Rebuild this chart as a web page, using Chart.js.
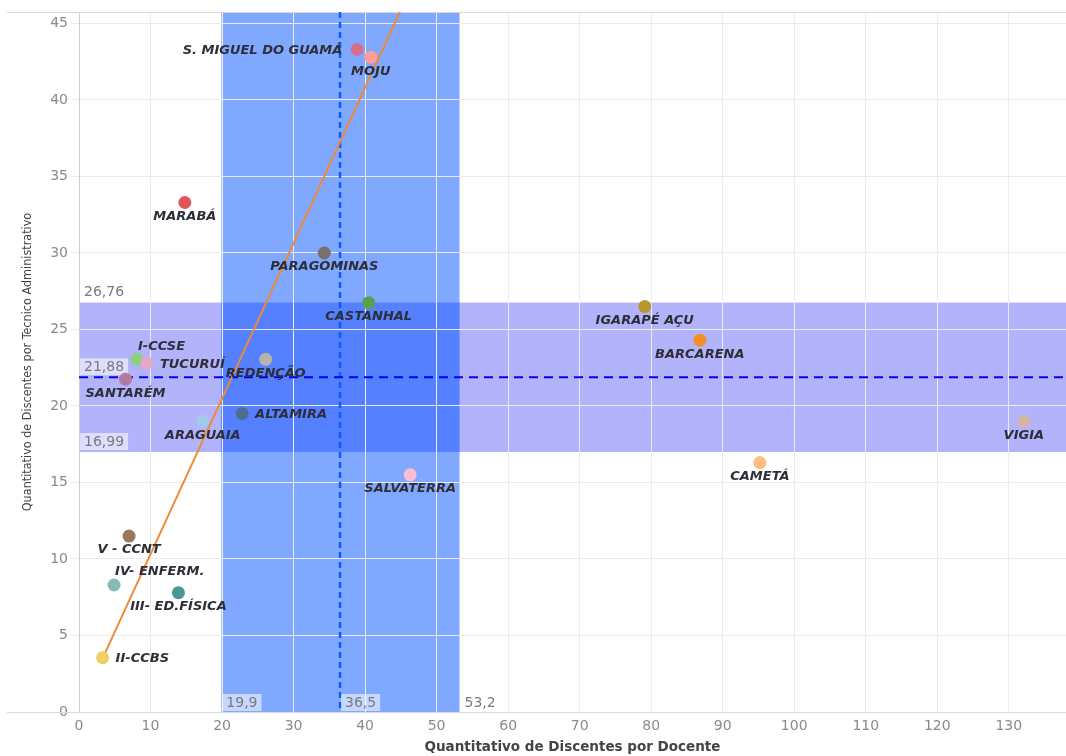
<!DOCTYPE html>
<html>
<head>
<meta charset="utf-8">
<script src="https://cdn.jsdelivr.net/npm/chart.js@4/dist/chart.umd.min.js"></script>
<style>
  html, body { margin: 0; padding: 0; background: #fff; overflow: hidden; }
  #wrap { width: 1066px; height: 756px; }
</style>
</head>
<body>
<div id="wrap"><canvas id="scatter" width="1066" height="756"></canvas></div>
<script>
// campus / unit names and their two ratios
const names = ['S. MIGUEL DO GUAMÁ', 'MOJU', 'MARABÁ', 'PARAGOMINAS', 'CASTANHAL', 'IGARAPÉ AÇU',
  'BARCARENA', 'I-CCSE', 'TUCURUÍ', 'REDENÇÃO', 'SANTARÉM', 'ALTAMIRA', 'ARAGUAIA', 'VIGIA',
  'CAMETÁ', 'SALVATERRA', 'V - CCNT', 'IV- ENFERM.', 'III- ED.FÍSICA', 'II-CCBS'];
const porDocente = [38.9, 40.8, 14.8, 34.3, 40.5, 79.1, 86.8, 8.1, 9.5, 26.1, 6.5, 22.8, 17.3, 132.1,
  95.2, 46.3, 7.0, 4.9, 13.9, 3.3];
const porTecnico = [43.3, 42.8, 33.3, 30.0, 26.75, 26.5, 24.3, 23.05, 22.8, 23.05, 21.75, 19.5, 19.0, 19.0,
  16.3, 15.5, 11.5, 8.3, 7.8, 3.55];

// axis ticks
const xTicks = [0, 10, 20, 30, 40, 50, 60, 70, 80, 90, 100, 110, 120, 130];
const yTicks = [0, 5, 10, 15, 20, 25, 30, 35, 40, 45];

// reference bands and lines (x: docente, y: tecnico)
const xBand = [19.9, 53.2];
const xRef = 36.5;
const yBand = [16.99, 26.76];
const yRef = 21.88;

// trend line end points
const trendX = [3.3, 45.5];
const trendY = [3.5, 46.4];

const pointColors = ['#d4708f', '#ff9d9a', '#e15759', '#79706e', '#59a14f', '#b6992d', '#f28e2b',
  '#8cd17d', '#e4a9c8', '#bab0ac', '#b07aa1', '#4e6f92', '#a0cbe8', '#d7b5a6', '#ffbe7d', '#fabfd2',
  '#9d7660', '#86bcb6', '#499894', '#f1ce63'];
// where each text label sits relative to its point
const labelSide = ['left', 'below', 'below', 'below', 'below', 'below', 'below', 'above', 'right',
  'below', 'below', 'right', 'below', 'below', 'below', 'below', 'below', 'above', 'below', 'right'];

const fmt = v => String(v).replace('.', ',');

const bandsPlugin = {
  id: 'bands',
  beforeDraw(chart) {
    const { ctx, chartArea: a, scales: { x, y } } = chart;
    const x1 = x.getPixelForValue(xBand[0]), x2 = x.getPixelForValue(xBand[1]);
    const y1 = y.getPixelForValue(yBand[1]), y2 = y.getPixelForValue(yBand[0]);
    ctx.save();
    ctx.fillStyle = '#b3b3fc';
    ctx.fillRect(a.left, y1, a.right - a.left, y2 - y1);
    ctx.fillStyle = '#80a8ff';
    ctx.fillRect(x1, a.top, x2 - x1, a.bottom - a.top);
    ctx.fillStyle = '#5580ff';
    ctx.fillRect(x1, y1, x2 - x1, y2 - y1);
    ctx.restore();
  },
  beforeDatasetsDraw(chart) {
    const { ctx, chartArea: a, scales: { x, y } } = chart;
    ctx.save();
    // frame lines reaching out to the left like the original
    ctx.strokeStyle = '#d9d9d9';
    ctx.lineWidth = 1;
    ctx.beginPath();
    ctx.moveTo(7, a.top + 0.5); ctx.lineTo(a.right, a.top + 0.5);
    ctx.moveTo(7, a.bottom + 0.5); ctx.lineTo(a.right, a.bottom + 0.5);
    ctx.stroke();

    // reference lines
    const xr = x.getPixelForValue(xRef);
    ctx.strokeStyle = '#0a5cff';
    ctx.lineWidth = 2.5;
    ctx.setLineDash([6, 4]);
    ctx.beginPath(); ctx.moveTo(xr, a.top); ctx.lineTo(xr, a.bottom); ctx.stroke();
    const yr = y.getPixelForValue(yRef);
    ctx.strokeStyle = '#0000f0';
    ctx.lineWidth = 2;
    ctx.setLineDash([9, 6]);
    ctx.beginPath(); ctx.moveTo(a.left, yr); ctx.lineTo(a.right, yr); ctx.stroke();
    ctx.setLineDash([]);

    // value boxes
    ctx.font = '14px "DejaVu Sans", sans-serif';
    ctx.textBaseline = 'middle';
    ctx.textAlign = 'left';
    const box = (txt, bx, by) => {
      const w = ctx.measureText(txt).width + 8;
      ctx.fillStyle = 'rgba(255,255,255,0.55)';
      ctx.fillRect(bx, by, w, 17);
      ctx.fillStyle = '#7a7a7a';
      ctx.fillText(txt, bx + 4, by + 9);
    };
    [yBand[1], yRef, yBand[0]].forEach(v => box(fmt(v), a.left + 1, y.getPixelForValue(v) - 19));
    [xBand[0], xRef, xBand[1]].forEach(v => box(fmt(v), x.getPixelForValue(v) + 1, a.bottom - 18));
    ctx.restore();
  },
  afterDatasetsDraw(chart) {
    const { ctx, scales: { x, y } } = chart;
    ctx.save();
    ctx.font = 'italic bold 13px "DejaVu Sans", sans-serif';
    ctx.fillStyle = '#2e2e38';
    ctx.textBaseline = 'middle';
    names.forEach((n, i) => {
      const px = x.getPixelForValue(porDocente[i]);
      const py = y.getPixelForValue(porTecnico[i]);
      const side = labelSide[i];
      if (side === 'below') { ctx.textAlign = 'center'; ctx.fillText(n, px, py + 14); }
      else if (side === 'right') { ctx.textAlign = 'left'; ctx.fillText(n, px + 13, py + 1); }
      else if (side === 'left') { ctx.textAlign = 'right'; ctx.fillText(n, px - 15, py + 1); }
      else { ctx.textAlign = 'left'; ctx.fillText(n, px + 1, py - 13); }
    });
    ctx.restore();
  }
};

const ctx = document.getElementById('scatter').getContext('2d');
new Chart(ctx, {
  type: 'scatter',
  data: {
    datasets: [{
      data: names.map((n, i) => ({ x: porDocente[i], y: porTecnico[i] })),
      backgroundColor: pointColors,
      borderWidth: 0,
      pointRadius: 6.5,
      pointHoverRadius: 6.5
    }, {
      type: 'line',
      data: trendX.map((v, i) => ({ x: v, y: trendY[i] })),
      borderColor: '#ee8a36',
      borderWidth: 2,
      pointRadius: 0,
      fill: false
    }]
  },
  options: {
    responsive: false,
    animation: false,
    layout: { autoPadding: false, padding: { top: 12, right: 0, left: 0, bottom: 0 } },
    plugins: { legend: { display: false }, tooltip: { enabled: false } },
    scales: {
      x: {
        min: 0, max: 138,
        ticks: { color: '#8a8a8a', font: { family: '"DejaVu Sans", sans-serif', size: 14 }, padding: 6, maxRotation: 0 },
        grid: { color: '#ececec', drawTicks: false },
        border: { display: false },
        title: {
          display: true, text: 'Quantitativo de Discentes por Docente', color: '#444',
          font: { family: '"DejaVu Sans", sans-serif', size: 13.5, weight: 'bold' }, padding: { top: -1, bottom: 0 }
        },
        afterBuildTicks: s => { s.ticks = xTicks.map(v => ({ value: v })); },
        afterFit: s => { s.height = 44; }
      },
      y: {
        min: 0, max: 45.75,
        ticks: { color: '#8a8a8a', font: { family: '"DejaVu Sans", sans-serif', size: 14 }, padding: 3 },
        grid: { color: '#ececec', tickLength: 8 },
        border: { color: '#d0d0d0' },
        title: {
          display: true, text: 'Quantitativo de Discentes por Tecnico Administrativo', color: '#444',
          font: { family: '"Liberation Sans Narrow", "DejaVu Sans Condensed", sans-serif', size: 12.5 },
          padding: { top: 20, bottom: 0 }
        },
        afterBuildTicks: s => { s.ticks = yTicks.map(v => ({ value: v })); },
        afterFit: s => { s.width = 79; }
      }
    }
  },
  plugins: [bandsPlugin]
});
</script>
</body>
</html>
